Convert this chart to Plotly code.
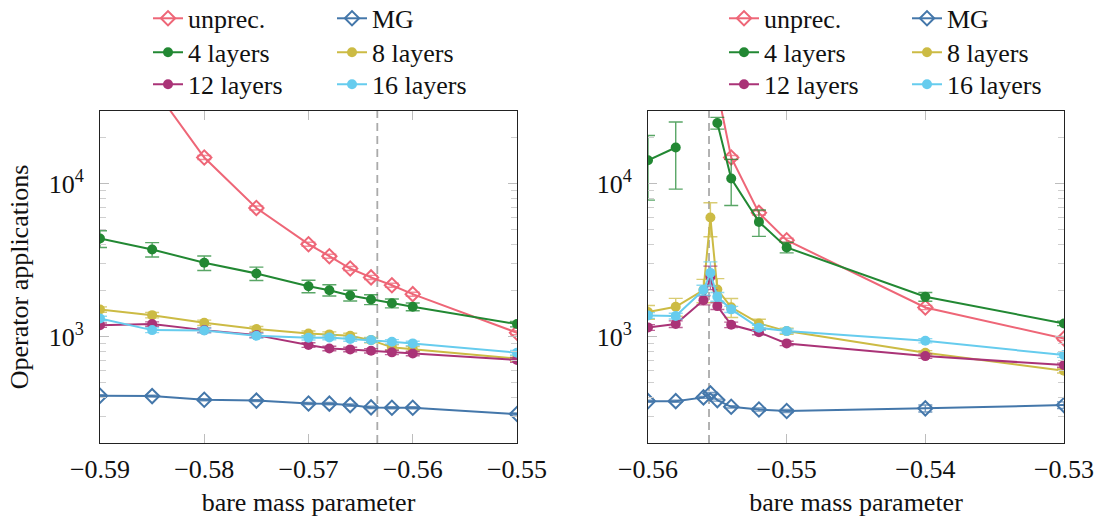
import plotly.graph_objects as go

# ---------------- data ----------------
# left panel
x_left = [-0.59, -0.585, -0.58, -0.575, -0.57, -0.568, -0.566, -0.564, -0.562, -0.56, -0.55]
unprec_left = [None, 43600, 14800, 6930, 4020, 3357, 2790, 2440, 2170, 1897, 1062]
unprec_left_err = [0, 1300, 450, 210, 120, 100, 85, 75, 65, 57, 32]
mg_left = [412, 410, 388, 383, 367, 366, 358, 346, 344, 344, 313]
mg_left_err = [6, 6, 6, 6, 6, 6, 6, 6, 5, 5, 5]
l4_left = [4375, 3715, 3040, 2590, 2137, 2014, 1860, 1752, 1653, 1570, 1210]
l4_left_err = [550, 400, 330, 260, 200, 170, 150, 130, 110, 90, 50]
l8_left = [1507, 1384, 1234, 1122, 1051, 1036, 1015, 951, 853, 830, 721]
l8_left_err = [60, 55, 50, 45, 40, 40, 40, 38, 34, 33, 29]
l12_left = [1191, 1210, 1105, 1025, 883, 839, 827, 810, 791, 778, 705]
l12_left_err = [40, 40, 38, 35, 30, 28, 28, 27, 26, 26, 24]
l16_left = [1317, 1105, 1100, 1015, 985, 990, 966, 951, 927, 905, 787]
l16_left_err = [45, 40, 40, 35, 33, 33, 32, 32, 31, 30, 26]

# right panel
x_right = [-0.56, -0.558, -0.556, -0.5555, -0.555, -0.554, -0.552, -0.55, -0.54, -0.53]
unprec_right = [None, None, None, None, 41000, 14800, 6440, 4266, 1553, 975]
unprec_right_err = [0, 0, 0, 0, 1200, 450, 200, 130, 50, 30]
mg_right = [380, 380, 402, 427, 386, 349, 335, 328, 341, 358]
mg_right_err = [6, 6, 6, 6, 6, 6, 8, 8, 18, 18]
l4_right = [14200, 17200, None, None, 24850, 10790, 5620, 3830, 1824, 1222]
l4_right_err = [6400, 8000, 0, 0, 2200, 3600, 1100, 300, 120, 40]
l8_right = [1450, 1570, 2018, 6000, 2037, 1556, 1222, 1089, 787, 600]
l8_right_err = [150, 210, 350, 1500, 360, 220, 80, 50, 25, 20]
l12_right = [1151, 1210, 1734, 2460, 1585, 1197, 1070, 905, 748, 653]
l12_right_err = [50, 60, 120, 430, 80, 50, 40, 30, 25, 20]
l16_right = [1378, 1365, 2018, 2612, 1824, 1510, 1145, 1089, 942, 759]
l16_right_err = [60, 60, 150, 470, 120, 70, 45, 35, 30, 25]

crit_left = -0.5634
crit_right = -0.5556

series_names = ["unprec.", "MG", "4 layers", "8 layers", "12 layers", "16 layers"]
colors = ["#EE6677", "#4477AA", "#228833", "#CCBB44", "#AA3377", "#66CCEE"]
symbols = ["diamond-open", "diamond-open", "circle", "circle", "circle", "circle"]

x_ticks_left = [-0.59, -0.58, -0.57, -0.56, -0.55]
x_ticks_right = [-0.56, -0.55, -0.54, -0.53]
y_tickvals = [1000, 10000]
y_ticktext = ["10<sup>3</sup>", "10<sup>4</sup>"]
y_minor_vals = [200, 300, 400, 500, 600, 700, 800, 900,
                2000, 3000, 4000, 5000, 6000, 7000, 8000, 9000, 20000, 30000, 40000]

FONT = "Liberation Serif"
FS = 26

left_sets = [(unprec_left, unprec_left_err), (mg_left, mg_left_err), (l4_left, l4_left_err),
             (l8_left, l8_left_err), (l12_left, l12_left_err), (l16_left, l16_left_err)]
right_sets = [(unprec_right, unprec_right_err), (mg_right, mg_right_err), (l4_right, l4_right_err),
              (l8_right, l8_right_err), (l12_right, l12_right_err), (l16_right, l16_right_err)]

# ---------------- layout geometry (pixels) ----------------
W, H = 1104, 517
ML, MR, MT, MB = 100, 40, 110.7, 74
PW, PH = W - ML - MR, H - MT - MB

def px_x(p):
    return (p - ML) / PW

def px_y(p):
    return (H - MB - p) / PH

# legend text starts per column (px) and row centres (px)
leg_cols = {0: [188, 372], 1: [764, 947]}
leg_rows = [18, 52, 84]


def rgba(hexc, a):
    h = hexc.lstrip("#")
    return "rgba(%d,%d,%d,%.2f)" % (int(h[0:2], 16), int(h[2:4], 16), int(h[4:6], 16), a)


fig = go.Figure()
legends = {}
for panel, (xs, sets, xa, ya) in enumerate([
        (x_left, left_sets, "x", "y"),
        (x_right, right_sets, "x2", "y2")]):
    for i, (vals, errs) in enumerate(sets):
        col = colors[i]
        open_marker = symbols[i].endswith("open")
        k = panel * 6 + i + 1
        lname = "legend" if k == 1 else "legend%d" % k
        legends[lname] = dict(
            x=px_x(leg_cols[panel][i % 2] - 40), y=px_y(leg_rows[i // 2]),
            xanchor="left", yanchor="middle",
            font=dict(family=FONT, size=FS, color="#111"), bgcolor="rgba(0,0,0,0)",
            borderwidth=0, itemwidth=30, orientation="v", tracegroupgap=0)
        fig.add_trace(go.Scatter(
            x=xs, y=vals, name=series_names[i], mode="lines+markers",
            xaxis=xa, yaxis=ya, legend=lname,
            line=dict(color=col, width=2),
            marker=dict(symbol=symbols[i], size=11 if open_marker else 10, color=col,
                        line=dict(color=col, width=2 if open_marker else 0)),
            error_y=dict(type="data", array=errs, visible=True, color=rgba(col, 0.75),
                         thickness=1.4, width=7),
            connectgaps=False,
        ))

axis_common = dict(showline=True, linecolor="#222", linewidth=1, mirror="ticks",
                   ticks="inside", tickcolor="#bdbdbd", ticklen=9, tickwidth=1.2,
                   showgrid=False, zeroline=False, automargin=False,
                   tickfont=dict(family=FONT, size=FS, color="#111"))

xaxis_common = dict(axis_common, tickformat=".2f", ticklabelstandoff=3,
                    title=dict(text="bare mass parameter", font=dict(family=FONT, size=FS, color="#111"),
                               standoff=9))
yaxis_common = dict(axis_common, type="log", range=[2.3066, 4.4736],
                    tickvals=y_tickvals, ticktext=y_ticktext, ticklabelstandoff=10,
                    minor=dict(ticks="inside", ticklen=6, tickcolor="#cfcfcf", tickwidth=1.2,
                               showgrid=False, tickvals=y_minor_vals))

fig.update_layout(
    template="none",
    width=W, height=H,
    margin=dict(l=ML, r=MR, t=MT, b=MB, autoexpand=False),
    paper_bgcolor="white", plot_bgcolor="white",
    showlegend=True,
    xaxis=dict(xaxis_common, domain=[0, px_x(517)], range=[x_left[0], x_left[-1]],
               tickvals=x_ticks_left, anchor="y"),
    yaxis=dict(yaxis_common, domain=[0, 1], anchor="x",
               title=dict(text="Operator applications", font=dict(family=FONT, size=FS, color="#111"),
                          standoff=12)),
    xaxis2=dict(xaxis_common, domain=[px_x(648), 1], range=[x_right[0], x_right[-1]],
                tickvals=x_ticks_right, anchor="y2"),
    yaxis2=dict(yaxis_common, domain=[0, 1], anchor="x2"),
    shapes=[
        dict(type="line", xref="x", yref="y domain", x0=crit_left, x1=crit_left, y0=0, y1=1,
             line=dict(color="#aaaaaa", width=1.8, dash="8px,5px"), layer="below"),
        dict(type="line", xref="x2", yref="y2 domain", x0=crit_right, x1=crit_right, y0=0, y1=1,
             line=dict(color="#aaaaaa", width=1.8, dash="8px,5px"), layer="below"),
    ],
    **legends,
)

fig.write_html("out.html", config={"displayModeBar": False},
               post_script="document.body.style.margin='0';")
